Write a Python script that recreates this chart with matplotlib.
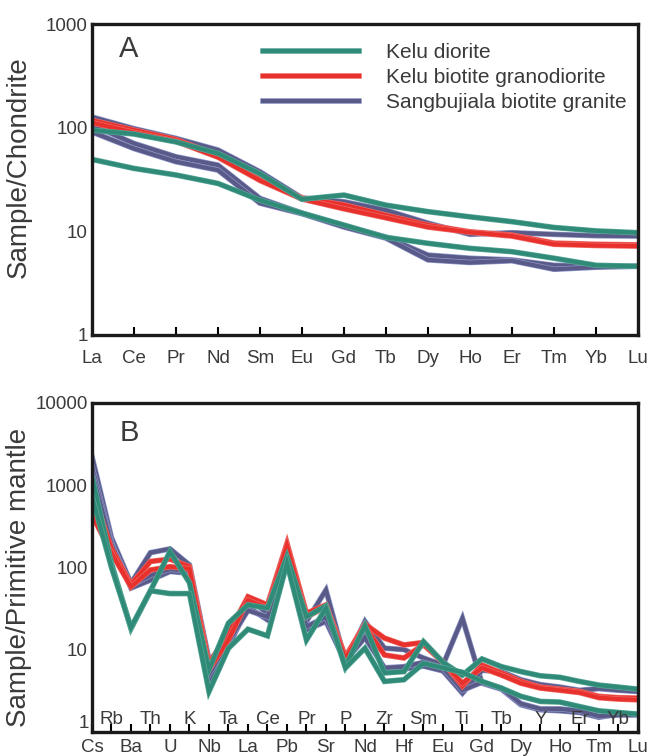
import numpy as np
import matplotlib
matplotlib.use("Agg")
import matplotlib.pyplot as plt
import matplotlib.patheffects as pe

plt.rcParams['font.family'] = ['Liberation Sans', 'DejaVu Sans']

# REE, chondrite-normalised
ree = ['La', 'Ce', 'Pr', 'Nd', 'Sm', 'Eu', 'Gd', 'Tb', 'Dy', 'Ho', 'Er', 'Tm', 'Yb', 'Lu']

ree_diorite = [
    [95, 87, 73, 56.5, 36, 20.4, 22.4, 17.9, 15.5, 13.8, 12.4, 10.9, 10.1, 9.7],
    [49.5, 40.5, 35, 29, 20, 15, 11.5, 8.75, 7.66, 6.85, 6.36, 5.5, 4.7, 4.6],
]
ree_granodiorite = [
    [118, 95, 77, 54, 32, 21, 18, 14.3, 11.5, 9.9, 9.2, 7.7, 7.5, 7.4],
    [112, 90, 74, 52, 31, 20.5, 16.5, 13.5, 11, 9.8, 9.0, 7.5, 7.3, 7.2],
]
ree_granite = [
    [127, 98, 79, 61, 37.6, 21, 19.3, 16, 12, 9.35, 9.7, 9.35, 9.07, 9.0],
    [106, 70.6, 52.5, 43.6, 20.8, 15, 11.3, 8.8, 5.9, 5.5, 5.3, 4.7, 4.6, 4.6],
    [91, 63, 47, 39, 18.7, 14.8, 11, 8.6, 5.3, 5.0, 5.2, 4.3, 4.5, 4.6],
]

# trace elements, primitive-mantle-normalised
spider = ['Cs', 'Rb', 'Ba', 'Th', 'U', 'K', 'Nb', 'Ta', 'La', 'Ce', 'Pb', 'Pr', 'Sr', 'P', 'Nd',
          'Zr', 'Hf', 'Sm', 'Eu', 'Ti', 'Gd', 'Tb', 'Dy', 'Y', 'Ho', 'Er', 'Tm', 'Yb', 'Lu']

spider_diorite = [
    [1270, 112, 18, 52, 156, 65, 5.7, 21, 35, 32, 135, 25, 34, 6.2, 19.6,
     5.2, 5.4, 12.5, 7, 4.9, 7.7, 6.2, 5.4, 4.8, 4.6, 4.1, 3.7, 3.5, 3.3],
    [726, 100, 18.5, 52, 48, 48, 3.1, 10.4, 17.7, 14.7, 112, 13.1, 32, 6.0, 10.4,
     4.1, 4.3, 6.8, 6, 5.3, 4.1, 3.4, 2.7, 2.34, 2.3, 2.03, 1.8, 1.72, 1.64],
]
spider_granodiorite = [
    [875, 170, 62, 118, 126, 102, 6.8, 15.9, 44, 35, 197, 27.7, 35, 8.2, 20.4,
     13.8, 11.4, 12.2, 7, 3.6, 6.5, 5.2, 4.1, 3.5, 3.3, 3.1, 2.7, 2.6, 2.57],
    [435, 150, 58, 93, 102, 96, 5.7, 13.2, 40, 32, 185, 25, 33, 7.8, 19,
     8.6, 7.9, 11.5, 7, 3.9, 6.0, 4.9, 3.9, 3.4, 3.2, 3.0, 2.6, 2.5, 2.45],
]
spider_granite = [
    [2224, 230, 64, 151, 168, 107, 7.5, 12, 42, 27.7, 165, 22, 53, 7.1, 22,
     10.4, 10, 7.9, 6.5, 24, 3.9, 3.3, 2.13, 1.85, 1.8, 1.72, 1.5, 1.65, 1.64],
    [1683, 200, 56, 70, 89, 85, 4.3, 11, 33, 23, 150, 17.4, 22, 7.0, 15.8,
     5.7, 5.8, 6.3, 5.5, 2.95, 5.6, 5.4, 4.3, 3.75, 3.5, 3.2, 3.35, 3.2, 3.09],
    [1400, 190, 60, 80, 95, 90, 5.0, 12.5, 30, 25, 155, 19, 25, 7.3, 14,
     6.0, 6.2, 7.0, 6.0, 3.2, 4.0, 3.4, 2.2, 1.9, 1.9, 1.8, 1.55, 1.6, 1.6],
]

labels = ['Kelu diorite', 'Kelu biotite granodiorite', 'Sangbujiala biotite granite']
green, red, purple = '#2f8a78', '#e8302c', '#5a5a88'
txt = '#3a3a3a'


def draw(ax, names, groups):
    x = np.arange(len(names))
    handles = []
    # purple first, then red, then green on top
    for data, col, edge, lab in [(groups[2], purple, '#8d96c8', labels[2]),
                                 (groups[1], red, '#f06a66', labels[1]),
                                 (groups[0], green, '#5aa898', labels[0])]:
        for i, y in enumerate(data):
            ln, = ax.plot(x, y, color=col, lw=3.0, solid_joinstyle='miter',
                          path_effects=[pe.Stroke(linewidth=4.0, foreground=edge), pe.Normal()])
            if i == 0:
                handles.append(ln)
    ax.set_yscale('log')
    ax.set_xlim(0, len(names) - 1)
    for s in ax.spines.values():
        s.set_linewidth(2.4)
        s.set_color('#1a1a1a')
    ax.tick_params(axis='y', length=0, labelsize=13.5, labelcolor=txt, pad=3)
    ax.tick_params(axis='x', direction='in', length=6, width=1.5, labelsize=13.5,
                   labelcolor=txt, pad=11)
    ax.yaxis.set_major_formatter(matplotlib.ticker.FuncFormatter(lambda v, p: '%g' % v))
    ax.yaxis.set_minor_locator(matplotlib.ticker.NullLocator())
    return handles[::-1]


fig = plt.figure(figsize=(6.57, 7.56), dpi=100)

axA = fig.add_axes([0.140, 0.557, 0.831, 0.411])
h = draw(axA, ree, [ree_diorite, ree_granodiorite, ree_granite])
axA.set_ylim(1, 1000)
axA.set_xticks(np.arange(len(ree)))
axA.set_xticklabels(ree)
axA.set_ylabel('Sample/Chondrite', fontsize=20, color=txt)
axA.yaxis.set_label_coords(-0.11, 0.54)
axA.text(0.05, 0.92, 'A', transform=axA.transAxes, fontsize=21, color=txt, va='center')
leg = axA.legend(h, labels, loc='upper left', bbox_to_anchor=(0.279, 1.0), frameon=False,
                 fontsize=15, handlelength=4.6, handletextpad=1.3, labelspacing=0.3)
for t in leg.get_texts():
    t.set_color(txt)

axB = fig.add_axes([0.140, 0.032, 0.831, 0.435])
draw(axB, spider, [spider_diorite, spider_granodiorite, spider_granite])
axB.set_ylim(1, 10000)
axB.set_xticks(np.arange(len(spider)))
axB.set_xticklabels([e if i % 2 == 0 else '' for i, e in enumerate(spider)])
axB.tick_params(axis='x', pad=5)
for i, e in enumerate(spider):
    if i % 2 == 1:
        axB.text(i, 0.036, e, transform=axB.get_xaxis_transform(), ha='center', va='center',
                 fontsize=13.5, color=txt)
# the "1" sits just above the axis so it stays clear of "Cs"
axB.yaxis.set_major_formatter(matplotlib.ticker.FuncFormatter(
    lambda v, p: '' if v == 1 else '%g' % v))
axB.text(-0.006, 1, '1', transform=axB.get_yaxis_transform(), ha='right', va='bottom',
         fontsize=13.5, color=txt)
axB.set_ylabel('Sample/Primitive mantle', fontsize=20, color=txt)
axB.yaxis.set_label_coords(-0.11, 0.47)
axB.text(0.05, 0.91, 'B', transform=axB.transAxes, fontsize=21, color=txt, va='center')

fig.savefig('out.png', dpi=100)
